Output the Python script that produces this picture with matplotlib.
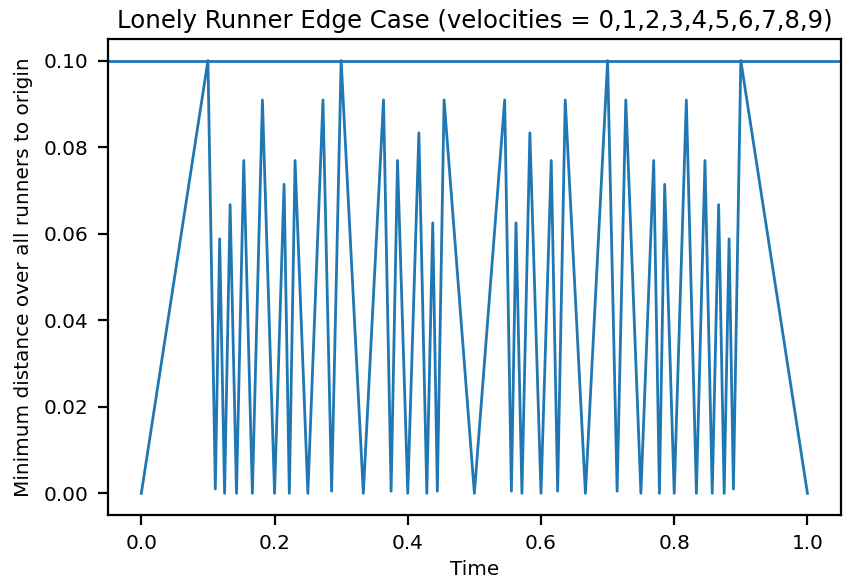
import matplotlib
matplotlib.use("Agg")
import matplotlib.pyplot as plt

# Vertices of the plotted curve (time, minimum distance)
times = [0.0, 0.1, 0.1111, 0.1176, 0.125, 0.1333, 0.1429, 0.1538, 0.1667, 0.1818,
         0.2, 0.2143, 0.2222, 0.2308, 0.25, 0.2727, 0.2857, 0.3, 0.3333, 0.3636,
         0.375, 0.3846, 0.4, 0.4167, 0.4286, 0.4375, 0.4444, 0.4545, 0.5,
         0.5455, 0.5556, 0.5625, 0.5714, 0.5833, 0.6, 0.6154, 0.625, 0.6364,
         0.6667, 0.7, 0.7143, 0.7273, 0.75, 0.7692, 0.7778, 0.7857, 0.8, 0.8182,
         0.8333, 0.8462, 0.8571, 0.8667, 0.875, 0.8824, 0.8889, 0.9, 1.0]
min_dist = [0.0, 0.1, 0.001, 0.0588, 0.0, 0.0667, 0.0, 0.0769, 0.0, 0.0909,
            0.0, 0.0714, 0.0, 0.0769, 0.0, 0.0909, 0.0005, 0.1, 0.0, 0.0909,
            0.0005, 0.0769, 0.0, 0.0833, 0.0, 0.0625, 0.0005, 0.0909, 0.0,
            0.0909, 0.0005, 0.0625, 0.0, 0.0833, 0.0, 0.0769, 0.0005, 0.0909,
            0.0, 0.1, 0.0005, 0.0909, 0.0, 0.0769, 0.0, 0.0714, 0.0, 0.0909,
            0.0, 0.0769, 0.0, 0.0667, 0.0, 0.0588, 0.001, 0.1, 0.0]
threshold = 0.1

title = "Lonely Runner Edge Case (velocities = 0,1,2,3,4,5,6,7,8,9)"
xlabel = "Time"
ylabel = "Minimum distance over all runners to origin"

plt.rcParams['font.family'] = ['DejaVu Sans']
fig = plt.figure(figsize=(8.6, 5.87), dpi=100)
ax = fig.add_axes([0.1256, 0.1227, 0.852, 0.811])

color = '#1f77b4'
ax.plot(times, min_dist, color=color, linewidth=2.0)
ax.axhline(threshold, color=color, linewidth=2.0)

ax.set_title(title, fontsize=17.6, pad=8)
ax.set_xlabel(xlabel, fontsize=14.4, labelpad=5)
ax.set_ylabel(ylabel, fontsize=14.4, labelpad=8)
ax.tick_params(labelsize=14.4, length=7, width=1.6, pad=7)
for s in ax.spines.values():
    s.set_linewidth(1.6)

ax.set_xticks([0.0, 0.2, 0.4, 0.6, 0.8, 1.0])
ax.set_yticks([0.0, 0.02, 0.04, 0.06, 0.08, 0.10])
ax.set_yticklabels(["0.00", "0.02", "0.04", "0.06", "0.08", "0.10"])

fig.savefig("out.png", dpi=100)
